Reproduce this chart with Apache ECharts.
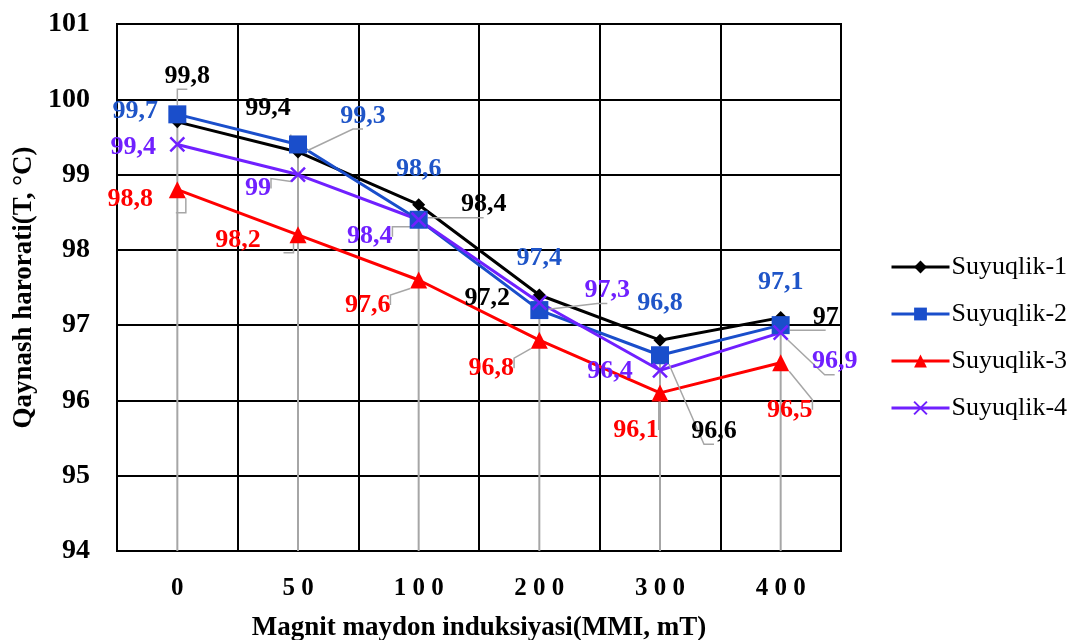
<!DOCTYPE html>
<html>
<head>
<meta charset="utf-8">
<script src="https://cdn.jsdelivr.net/npm/echarts@6/dist/echarts.min.js"></script>
<style>
  html, body { margin: 0; padding: 0; background: #fff; }
  #chart { width: 1075px; height: 640px; }
</style>
</head>
<body>
<div id="chart"></div>
<script>
// Boiling temperature vs. magnetic field induction for four liquids
const categories = ['0', '50', '100', '200', '300', '400'];
const suyuqlik1 = [99.7, 99.3, 98.6, 97.4, 96.8, 97.1];
const suyuqlik2 = [99.8, 99.4, 98.4, 97.2, 96.6, 97.0];
const suyuqlik3 = [98.8, 98.2, 97.6, 96.8, 96.1, 96.5];
const suyuqlik4 = [99.4, 99.0, 98.4, 97.3, 96.4, 96.9];
const seriesNames = ['Suyuqlik-1', 'Suyuqlik-2', 'Suyuqlik-3', 'Suyuqlik-4'];
const yMin = 94, yMax = 101, yStep = 1;

// Label placement: pixel offset of each value label from its marker, and whether it has a leader line
const labelPlacement = {
  s1: { off: [[-42, -11], [65, -36], [0, -35], [0, -37], [0, -37], [0, -35]], lead: [0, 1, 0, 0, 0, 0] },
  s2: { off: [[10, -38], [-30, -36], [65, -15], [-52, -12], [54, 76], [45, -8]], lead: [1, 1, 1, 1, 1, 1] },
  s3: { off: [[-47, 10], [-60, 5], [-51, 25], [-48, 28], [-24, 37], [9, 47]], lead: [1, 1, 1, 1, 1, 1] },
  s4: { off: [[-44, 3], [-40, 14], [-49, 17], [68, -12], [-50, 1], [54, 29]], lead: [0, 1, 1, 1, 0, 1] }
};

const FONT = "'Liberation Serif', 'Times New Roman', serif";
const GUIDE = '#a6a6a6';
const fmt = v => String(v).replace('.', ',');

function buildData(values, place) {
  return values.map((v, i) => ({
    value: v,
    label: { offset: place.off[i] },
    labelLine: { show: !!place.lead[i] }
  }));
}

function lineSeries(name, values, place, color, labelColor, symbol, symbolSize, extraItem) {
  return {
    name: name,
    type: 'line',
    data: buildData(values, place),
    symbol: symbol,
    symbolSize: symbolSize,
    showSymbol: true,
    lineStyle: { color: color, width: 3 },
    itemStyle: Object.assign({ color: color }, extraItem || {}),
    label: {
      show: true,
      position: 'inside',
      formatter: p => fmt(p.value),
      color: labelColor,
      fontFamily: FONT,
      fontWeight: 'bold',
      fontSize: 26
    },
    labelLine: { show: false, length2: 10, lineStyle: { color: GUIDE, width: 1.5 } },
    emphasis: { disabled: true }
  };
}

// top of each drop line: highest value at that category
const dropTops = categories.map((c, i) => Math.max(suyuqlik1[i], suyuqlik2[i], suyuqlik3[i], suyuqlik4[i]));

const chart = echarts.init(document.getElementById('chart'), null, { renderer: 'canvas' });
chart.setOption({
  animation: false,
  backgroundColor: '#fff',
  textStyle: { fontFamily: FONT },
  grid: {
    left: 117, right: 234, top: 24, bottom: 89,
    outerBoundsMode: 'none',
    show: true, borderColor: '#000', borderWidth: 2
  },
  legend: {
    data: seriesNames,
    orient: 'vertical',
    left: 885,
    top: 249,
    itemWidth: 58,
    itemHeight: 16,
    itemGap: 21,
    lineStyle: { width: 3 },
    textStyle: { fontFamily: FONT, fontSize: 26, color: '#000', padding: [0, 0, 0, -3] }
  },
  xAxis: {
    type: 'category',
    data: categories,
    boundaryGap: true,
    axisLine: { lineStyle: { color: '#000', width: 2 } },
    axisTick: { show: false },
    splitLine: { show: true, interval: 0, lineStyle: { color: '#000', width: 2 } },
    axisLabel: {
      interval: 0,
      margin: 25,
      color: '#000',
      fontFamily: FONT,
      fontWeight: 'bold',
      fontSize: 25,
      formatter: v => v.split('').join(' ')
    },
    name: 'Magnit maydon induksiyasi(MMI, mT)',
    nameLocation: 'middle',
    nameGap: 64,
    nameTextStyle: { color: '#000', fontFamily: FONT, fontWeight: 'bold', fontSize: 27 }
  },
  yAxis: {
    type: 'value',
    min: yMin,
    max: yMax,
    interval: yStep,
    axisLine: { show: true, lineStyle: { color: '#000', width: 2 } },
    axisTick: { show: false },
    splitLine: { show: true, lineStyle: { color: '#000', width: 2 } },
    axisLabel: { margin: 27, color: '#000', fontFamily: FONT, fontWeight: 'bold', fontSize: 28 },
    name: 'Qaynash harorati(T, °C)',
    nameLocation: 'middle',
    nameGap: 78,
    nameTextStyle: { color: '#000', fontFamily: FONT, fontWeight: 'bold', fontSize: 27 }
  },
  series: [
    lineSeries(seriesNames[0], suyuqlik1, labelPlacement.s1, '#000000', '#1f55c8', 'diamond', 13),
    lineSeries(seriesNames[1], suyuqlik2, labelPlacement.s2, '#1a4ecb', '#000000', 'rect', 18),
    lineSeries(seriesNames[2], suyuqlik3, labelPlacement.s3, '#ff0000', '#ff0000', 'triangle', 17),
    lineSeries(seriesNames[3], suyuqlik4, labelPlacement.s4, '#7020ff', '#7020ff',
      'path://M0,0L10,10M10,0L0,10', 14, { borderColor: '#7020ff', borderWidth: 2.5 }),
    {
      type: 'custom',
      silent: true,
      z: 3,
      data: dropTops.map((v, i) => [i, v]),
      renderItem: (params, api) => {
        const top = api.coord([api.value(0), api.value(1)]);
        const bottom = api.coord([api.value(0), yMin]);
        return {
          type: 'line',
          shape: { x1: top[0], y1: top[1], x2: bottom[0], y2: bottom[1] },
          style: { stroke: GUIDE, lineWidth: 2 }
        };
      }
    }
  ]
});
</script>
</body>
</html>
